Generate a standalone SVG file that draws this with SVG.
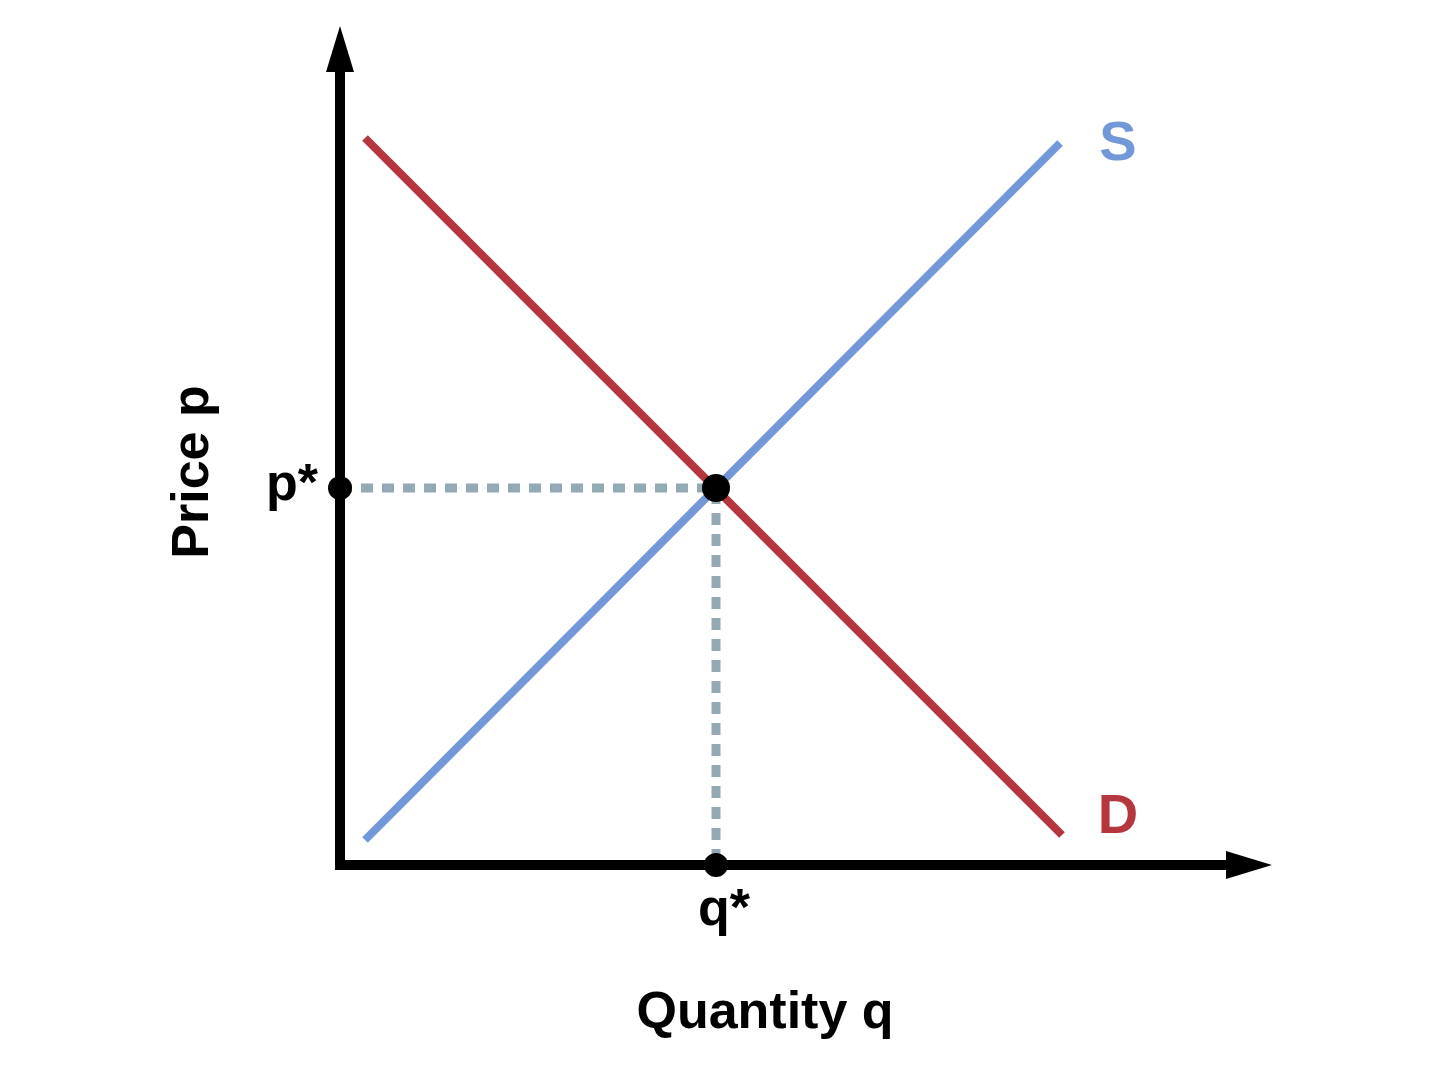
<svg xmlns="http://www.w3.org/2000/svg" width="1440" height="1080" viewBox="0 0 1440 1080">
<style>
.t{font-family:"Liberation Sans",Arial,sans-serif;font-weight:bold;}
.dot{fill:#000;}
</style>
<rect width="1440" height="1080" fill="#fff"/>
<g id="connectors">
<line x1="340" y1="488" x2="712" y2="488" stroke="#93a9b3" stroke-width="9" stroke-dasharray="12,9"/>
<line x1="716" y1="492" x2="716" y2="862" stroke="#93a9b3" stroke-width="9" stroke-dasharray="12,9"/>
<line x1="365" y1="138" x2="1062" y2="835" stroke="#b5363f" stroke-width="8"/>
<line x1="365" y1="840" x2="1060" y2="143" stroke="#7298d8" stroke-width="8"/>
</g>
<g id="axes">
<path d="M340,60 V865 H1240" fill="none" stroke="#000" stroke-width="10"/>
<polygon points="340,26 326,72 354,72" fill="#000"/>
<polygon points="1272,865 1226,851 1226,879" fill="#000"/>
</g>
<g id="points">
<circle class="dot" cx="716" cy="488" r="14"/>
<circle class="dot" cx="340" cy="488" r="12"/>
<circle class="dot" cx="716" cy="865" r="12"/>
</g>
<g id="labels">
<text class="t" x="1118" y="160" font-size="56" fill="#7298d8" text-anchor="middle" font-weight="normal">S</text>
<text class="t" x="1118" y="833" font-size="56" fill="#b5363f" text-anchor="middle" font-weight="normal">D</text>
<text class="t" x="292" y="500" font-size="52" text-anchor="middle">p*</text>
<text class="t" x="724" y="925" font-size="52" text-anchor="middle">q*</text>
<text class="t" x="765" y="1028" font-size="52" text-anchor="middle">Quantity q</text>
<text class="t" transform="translate(208,472) rotate(-90)" font-size="52" text-anchor="middle">Price p</text>
</g>
</svg>
